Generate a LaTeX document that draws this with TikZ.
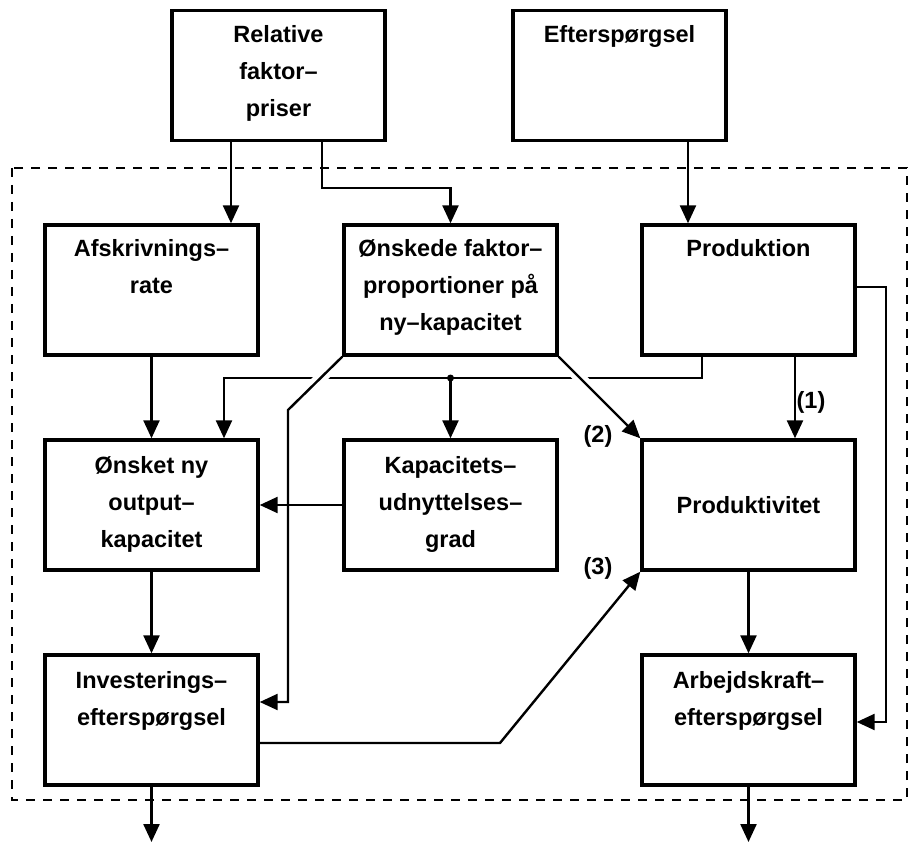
\documentclass[tikz,border=0pt]{standalone}
\usepackage{fontspec}
\setmainfont{Liberation Sans}
\usetikzlibrary{arrows.meta,calc}
\begin{document}
\begin{tikzpicture}[x=1pt,y=-1pt,
  box/.style={draw,line width=3.4pt,minimum width=213pt,minimum height=130pt,inner sep=0pt},
  txt/.style={anchor=north,align=center,font=\bfseries\fontsize{23.5}{37}\selectfont,inner sep=0pt},
  conn/.style={line width=2.4pt,-{Triangle[length=18pt,width=16pt]}},
  halo/.style={draw=white,line width=12pt},
  lab/.style={font=\bfseries\fontsize{23.5}{30}\selectfont,inner sep=0pt}]
\useasboundingbox (0,0) rectangle (911,845);
\fill[white] (0,0) rectangle (911,845);

% dashed frame
\draw[line width=2pt,dash pattern=on 9pt off 8pt] (12,168) rectangle (907,800);

% boxes
\node[box] (rel)   at (278.5,75.5) {};
\node[box] (eft)   at (619.5,75.5) {};
\node[box] (afs)   at (151.5,290) {};
\node[box] (oen)   at (450.5,290) {};
\node[box] (prod)  at (748.5,290) {};
\node[box] (onsk)  at (151.5,505) {};
\node[box] (kap)   at (450.5,505) {};
\node[box] (prodv) at (748.5,505) {};
\node[box] (inv)   at (151.5,720) {};
\node[box] (arb)   at (748.5,720) {};

% texts
\node[txt] (trel) at ($(rel.north)+(0,16)$) {Relative\\faktor–\\priser};
\node[txt] (teft) at ($(eft.north)+(0,16)$) {Efterspørgsel};
\node[txt] (tafs) at ($(afs.north)+(0,16)$) {Afskrivnings–\\rate};
\node[txt] (toen) at ($(oen.north)+(0,16)$) {Ønskede faktor–\\proportioner på\\ny–kapacitet};
\node[txt] (tprod) at ($(prod.north)+(0,16)$) {Produktion};
\node[txt] (tonsk) at ($(onsk.north)+(0,18)$) {Ønsket ny\\output–\\kapacitet};
\node[txt] (tkap) at ($(kap.north)+(0,18)$) {Kapacitets–\\udnyttelses–\\grad};
\node[txt,anchor=center] (tprodv) at (prodv.center) {Produktivitet};
\node[txt] (tinv) at ($(inv.north)+(0,18)$) {Investerings–\\efterspørgsel};
\node[txt] (tarb) at ($(arb.north)+(0,18)$) {Arbejdskraft–\\efterspørgsel};

% coordinates for bends
\coordinate (k1) at (322,188);
\coordinate (h1) at (702,378);
\coordinate (d1) at (288,410);
\coordinate (r2) at (886,287);
\coordinate (d3) at (500,743);
\coordinate (out1) at (151.5,842);
\coordinate (out2) at (748.5,842);

% connectors
\draw[conn] (rel.south -| 231,0) -- (afs.north -| 231,0);
\draw[conn] (rel.south -| k1) -- (k1) -| (oen.north);
\draw[conn] (eft.south -| 688,0) -- (prod.north -| 688,0);
\draw[conn] (afs.south) -- (onsk.north);

\draw[conn] (prod.south -| h1) -- (h1) -| (onsk.north -| 224,0);
\draw[conn] (kap.north |- h1) -- (kap.north);
\fill (kap.north |- h1) circle (3.5pt);

% gaps where diagonals cross the horizontal line
\path[halo] ($(oen.south west)!0.25!(d1)$) -- ($(oen.south west)!0.6!(d1)$);
\path[halo] ($(oen.south east)!0.15!(prodv.north west)$) -- ($(oen.south east)!0.45!(prodv.north west)$);

\draw[conn] (oen.south west) -- (d1) |- (inv.east |- 0,702);
\draw[conn] (oen.south east) -- (prodv.north west);

\draw[conn] (prod.south -| 795,0) -- (prodv.north -| 795,0);
\draw[conn] (prod.east |- r2) -- (r2) |- (arb.east |- 0,722);

\draw[conn] (kap.west) -- (onsk.east);
\draw[conn] (onsk.south) -- (inv.north);
\draw[conn] (inv.east |- d3) -- (d3) -- (prodv.south west);
\draw[conn] (prodv.south) -- (arb.north);
\draw[conn] (inv.south) -- (out1);
\draw[conn] (arb.south) -- (out2);

% labels
\node[lab] (l1) at (811,402) {(1)};
\node[lab] (l2) at (598,436) {(2)};
\node[lab] (l3) at (598,568) {(3)};
\end{tikzpicture}
\end{document}
